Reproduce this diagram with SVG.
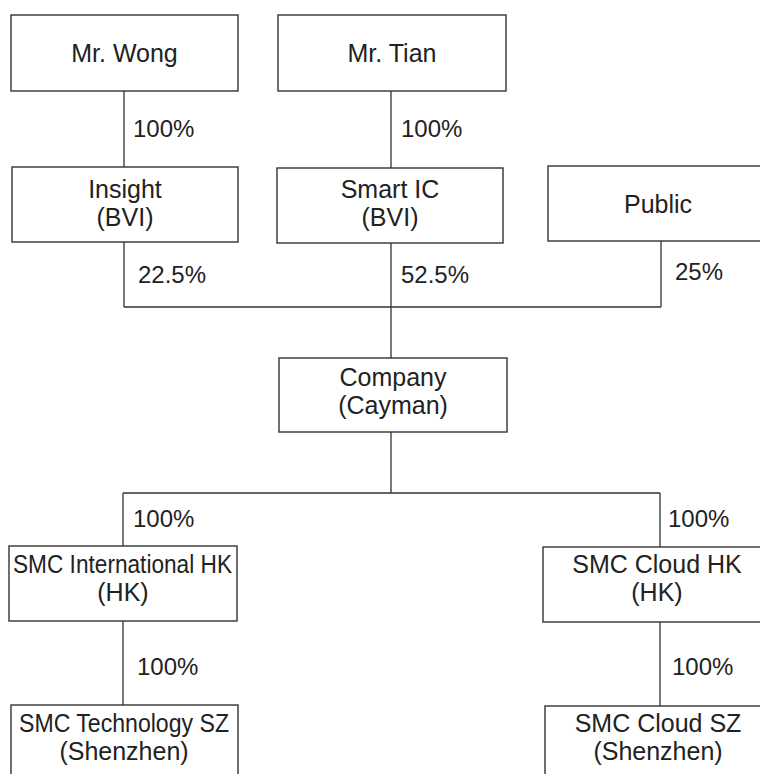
<svg xmlns="http://www.w3.org/2000/svg" width="760" height="774" viewBox="0 0 760 774">
<style>
.box{fill:#fff;stroke:#333;stroke-width:1.4}
.ln{fill:none;stroke:#333;stroke-width:1.3}
text{font-family:"Liberation Sans",Arial,sans-serif;font-size:24px;fill:#222}
.c{text-anchor:middle;font-size:25px}
</style>
<rect width="760" height="774" fill="#fff"/>
<g id="connectors">
<path class="ln" d="M124,91V167M391,91V168M124,242V307M391,243V358M661,241V307M124,307H661M391,432V493M123,493H660M123,493V546M660,493V547M123,621V705M660,622V706"/>
<text x="133" y="137">100%</text>
<text x="401" y="137">100%</text>
<text x="138" y="283">22.5%</text>
<text x="401" y="283">52.5%</text>
<text x="675" y="280">25%</text>
<text x="133" y="527">100%</text>
<text x="668" y="527">100%</text>
<text x="137" y="675">100%</text>
<text x="672" y="675">100%</text>
</g>
<g id="wong"><rect class="box" x="11" y="15" width="227" height="76"/><text class="c" x="124.5" y="62">Mr. Wong</text></g>
<g id="tian"><rect class="box" x="278" y="15" width="228" height="76"/><text class="c" x="392" y="62">Mr. Tian</text></g>
<g id="insight"><rect class="box" x="12" y="167" width="226" height="75"/><text class="c" x="125" y="198">Insight</text><text class="c" x="125" y="226">(BVI)</text></g>
<g id="smartic"><rect class="box" x="277" y="168" width="226" height="75"/><text class="c" x="390" y="198">Smart IC</text><text class="c" x="390" y="226">(BVI)</text></g>
<g id="public"><rect class="box" x="548" y="166" width="216" height="75"/><text class="c" x="658" y="213">Public</text></g>
<g id="company"><rect class="box" x="279" y="358" width="228" height="74"/><text class="c" x="393" y="386">Company</text><text class="c" x="393" y="414">(Cayman)</text></g>
<g id="smcintlhk"><rect class="box" x="9" y="546" width="228" height="75"/><text class="c" x="122.5" y="573" textLength="219" lengthAdjust="spacingAndGlyphs">SMC International HK</text><text class="c" x="123" y="601">(HK)</text></g>
<g id="smccloudhk"><rect class="box" x="543" y="547" width="221" height="75"/><text class="c" x="657" y="573">SMC Cloud HK</text><text class="c" x="657" y="601">(HK)</text></g>
<g id="smctechsz"><rect class="box" x="11" y="705" width="227" height="80"/><text class="c" x="124" y="732" textLength="210" lengthAdjust="spacingAndGlyphs">SMC Technology SZ</text><text class="c" x="124" y="760">(Shenzhen)</text></g>
<g id="smccloudsz"><rect class="box" x="545" y="706" width="219" height="80"/><text class="c" x="658" y="732">SMC Cloud SZ</text><text class="c" x="658" y="760">(Shenzhen)</text></g>
</svg>
